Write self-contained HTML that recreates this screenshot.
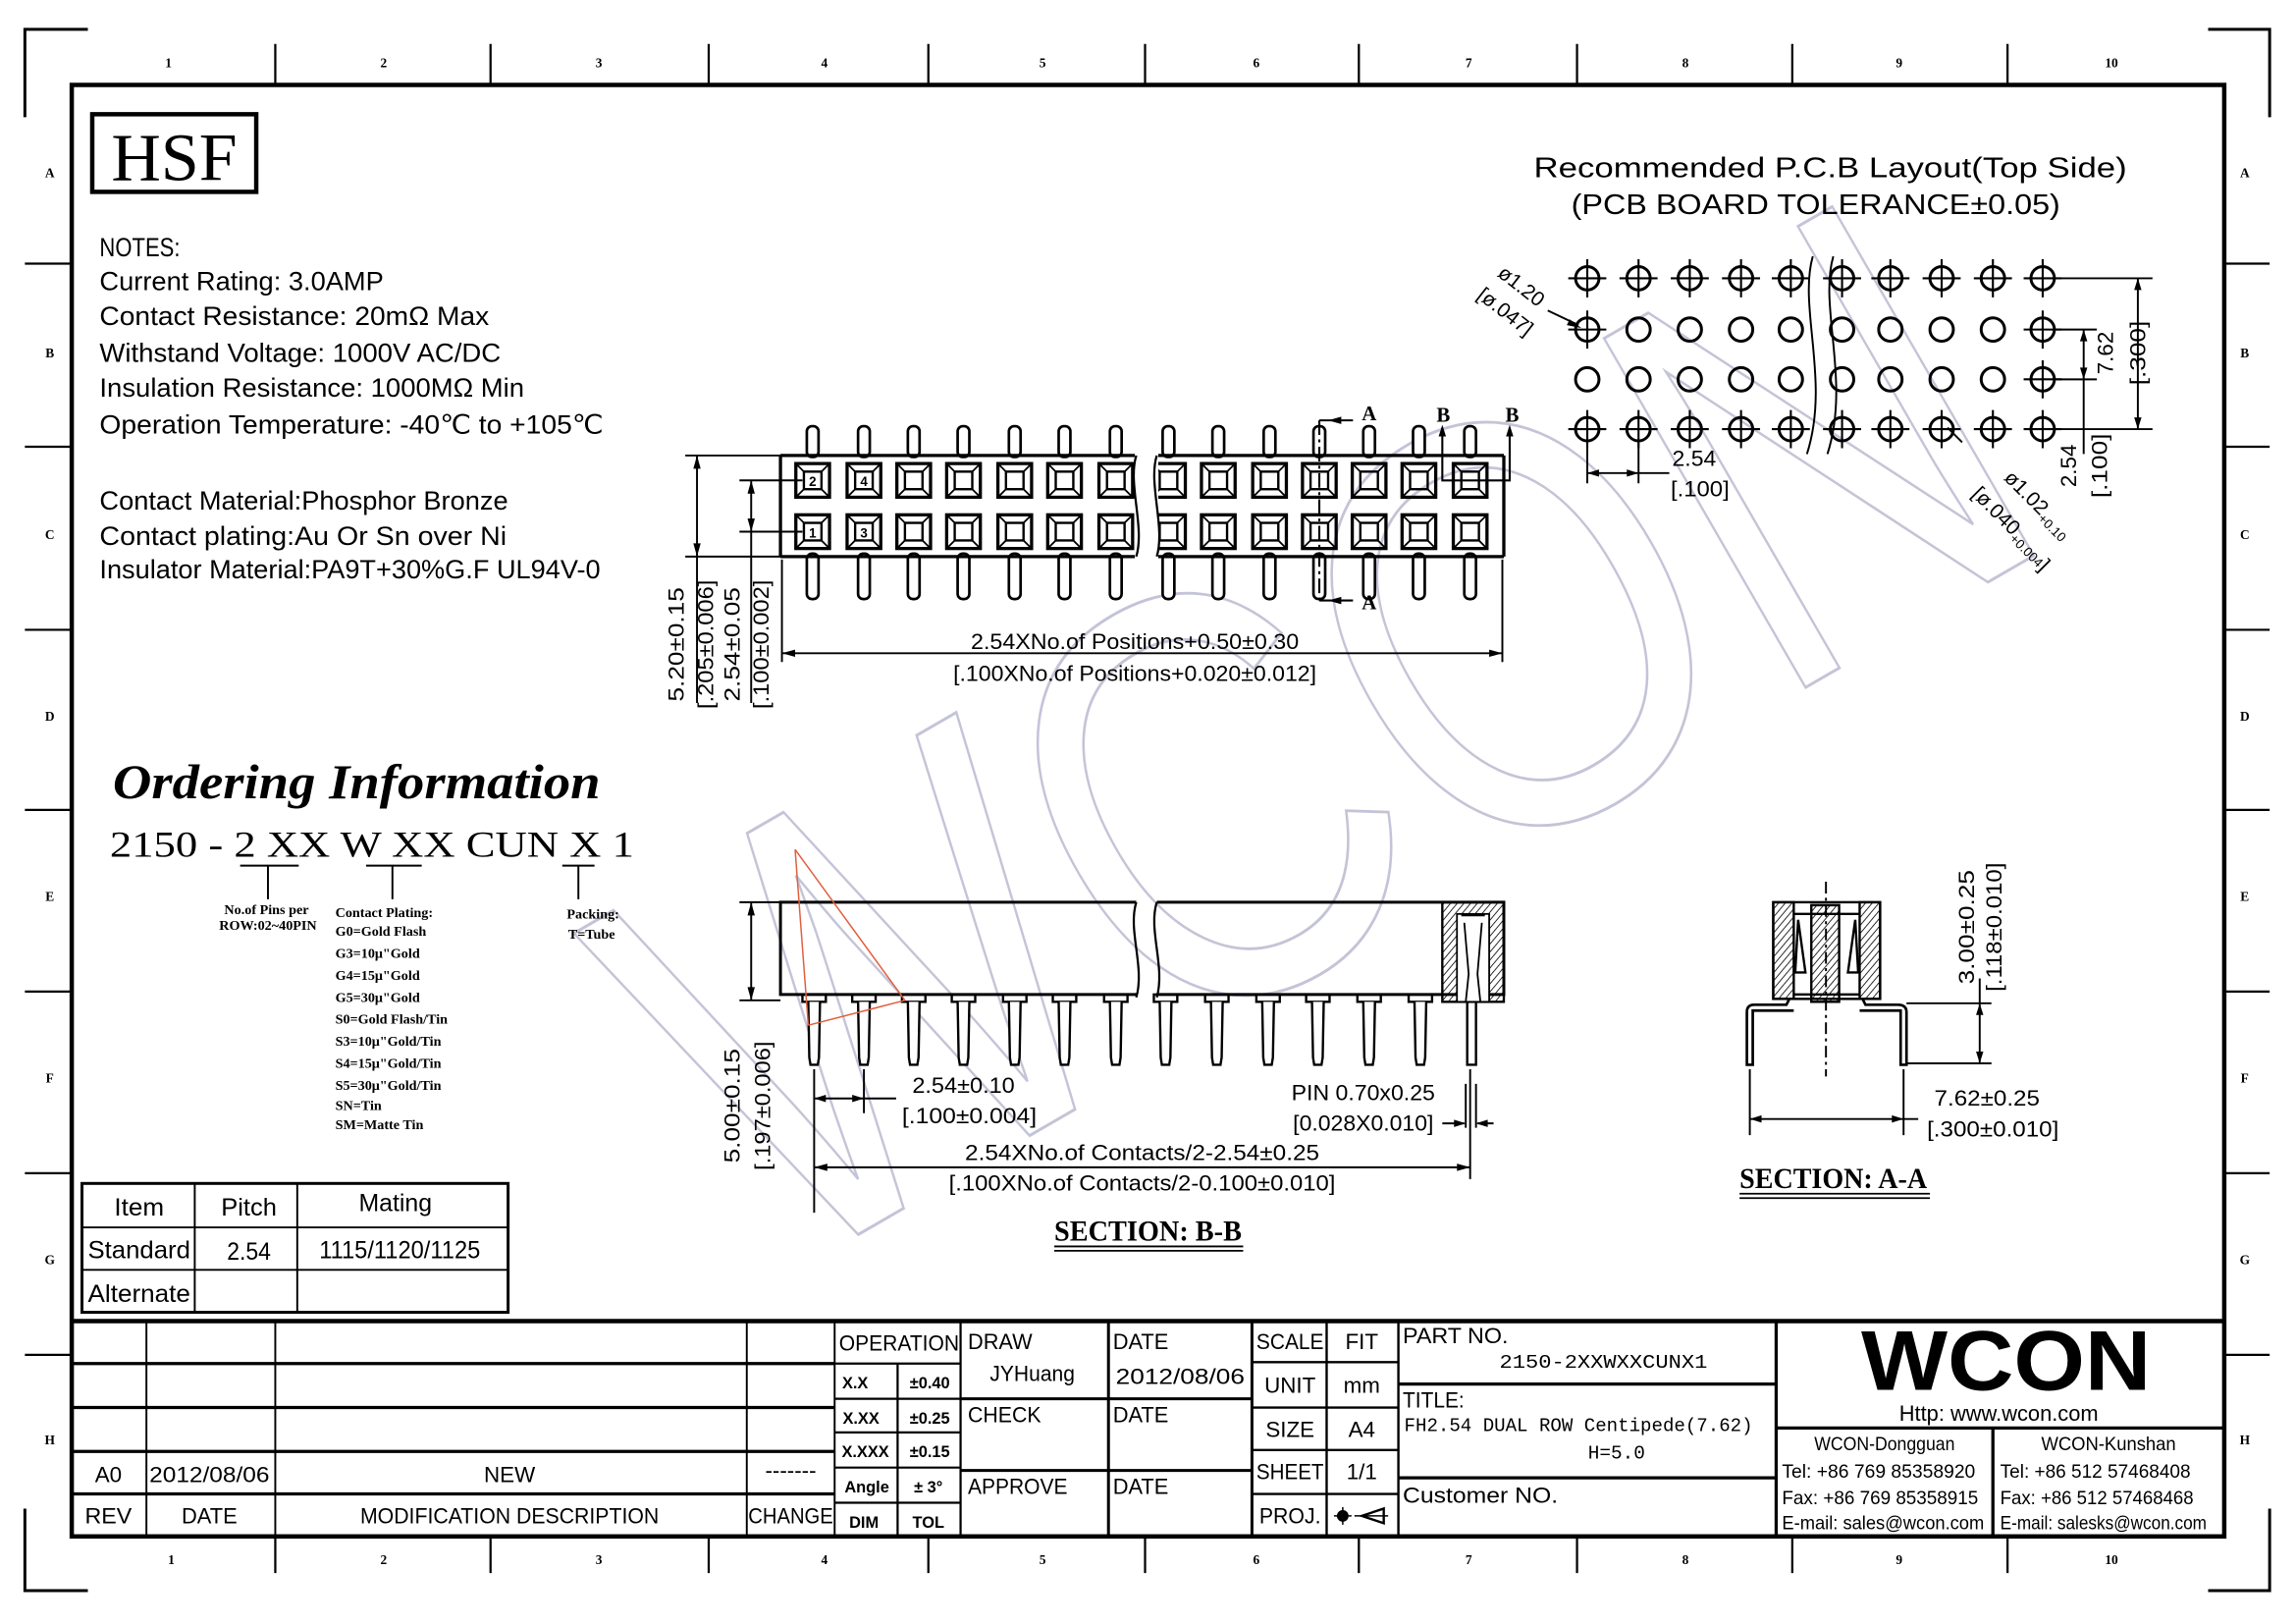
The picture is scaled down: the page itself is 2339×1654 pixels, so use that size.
<!DOCTYPE html>
<html><head><meta charset="utf-8"><style>
html,body{margin:0;padding:0;background:#fff;}
svg{display:block;}
text{font-family:"Liberation Sans",sans-serif;fill:#000;}
.s{font-family:"Liberation Serif",serif;}
.m{font-family:"Liberation Mono",monospace;}
text.wm{fill:none;stroke:#c4c4d8;stroke-width:2;}
</style></head><body>
<svg width="2339" height="1654" viewBox="0 0 1568 1108.8" preserveAspectRatio="none" xmlns="http://www.w3.org/2000/svg">
<defs>
<pattern id="h" width="3.5" height="3.5" patternUnits="userSpaceOnUse" patternTransform="rotate(40)"><line x1="0" y1="0" x2="0" y2="3.5" stroke="#000" stroke-width="1.1"/></pattern>
<g id="sq" fill="none" stroke="#000">
<rect x="-11.5" y="-11.5" width="23" height="23" stroke-width="2.2"/>
<rect x="-6" y="-6" width="12" height="12" stroke-width="1.6"/>
<path d="M-11.5,-11.5L-6,-6M11.5,-11.5L6,-6M-11.5,11.5L-6,6M11.5,11.5L6,6" stroke-width="1.2"/>
</g>
<g id="pu"><rect x="-4" y="291" width="8" height="21" rx="3.5" fill="#fff" stroke="#000" stroke-width="1.8"/></g>
<g id="pd"><rect x="-4" y="378" width="8" height="31" rx="3.5" fill="#fff" stroke="#000" stroke-width="1.8"/></g>
<g id="hc" fill="none" stroke="#000"><circle r="8" stroke-width="2"/><path d="M-13,0H13M0,-13V13" stroke-width="1.4"/></g>
<g id="ho" fill="none" stroke="#000"><circle r="8" stroke-width="2"/></g>
<g id="pb" fill="#fff" stroke="#000" stroke-width="1.6"><rect x="-8" y="679" width="16" height="5"/><path d="M-4,684L-3.3,722L-2.5,727H2.5L3.3,722L4,684"/></g>
</defs>

<!-- watermark -->
<text class="wm" x="900" y="640" font-size="400" text-anchor="middle" textLength="1020" lengthAdjust="spacingAndGlyphs" transform="rotate(-30 900 500)">WCON</text>

<!-- corners -->
<g fill="none" stroke="#000" stroke-width="2">
<path d="M60,20H17V80"/><path d="M1508,20H1550V80"/><path d="M17,1030V1086H60"/><path d="M1550,1030V1086H1508"/>
</g>
<!-- frame -->
<rect x="49" y="58" width="1470" height="991" fill="none" stroke="#000" stroke-width="3"/>
<g stroke="#000" stroke-width="1.5">
<path d="M188,30V58M335,30V58M484,30V58M634,30V58M782,30V58M928,30V58M1077,30V58M1224,30V58M1371,30V58"/>
<path d="M188,1049V1074M335,1049V1074M484,1049V1074M634,1049V1074M782,1049V1074M928,1049V1074M1077,1049V1074M1224,1049V1074M1371,1049V1074"/>
<path d="M17,180H49M17,305H49M17,430H49M17,553H49M17,677H49M17,801H49M17,925H49"/>
<path d="M1519,180H1550M1519,305H1550M1519,430H1550M1519,553H1550M1519,677H1550M1519,801H1550M1519,925H1550"/>
</g>
<g class="s" font-size="9" font-weight="bold" text-anchor="middle">
<text x="115" y="46" class="s">1</text><text x="262" y="46" class="s">2</text><text x="409" y="46" class="s">3</text><text x="563" y="46" class="s">4</text><text x="712" y="46" class="s">5</text><text x="858" y="46" class="s">6</text><text x="1003" y="46" class="s">7</text><text x="1151" y="46" class="s">8</text><text x="1297" y="46" class="s">9</text><text x="1442" y="46" class="s">10</text>
<text x="117" y="1068" class="s">1</text><text x="262" y="1068" class="s">2</text><text x="409" y="1068" class="s">3</text><text x="563" y="1068" class="s">4</text><text x="712" y="1068" class="s">5</text><text x="858" y="1068" class="s">6</text><text x="1003" y="1068" class="s">7</text><text x="1151" y="1068" class="s">8</text><text x="1297" y="1068" class="s">9</text><text x="1442" y="1068" class="s">10</text>
<text x="34" y="121" class="s">A</text><text x="34" y="244" class="s">B</text><text x="34" y="368" class="s">C</text><text x="34" y="492" class="s">D</text><text x="34" y="615" class="s">E</text><text x="34" y="739" class="s">F</text><text x="34" y="863" class="s">G</text><text x="34" y="986" class="s">H</text>
<text x="1533" y="121" class="s">A</text><text x="1533" y="244" class="s">B</text><text x="1533" y="368" class="s">C</text><text x="1533" y="492" class="s">D</text><text x="1533" y="615" class="s">E</text><text x="1533" y="739" class="s">F</text><text x="1533" y="863" class="s">G</text><text x="1533" y="986" class="s">H</text>
</g>

<!-- HSF -->
<rect x="63" y="78" width="112" height="53" fill="none" stroke="#000" stroke-width="3"/>
<text x="119" y="123" class="s" font-size="46" text-anchor="middle" textLength="86" lengthAdjust="spacingAndGlyphs">HSF</text>

<!-- notes -->
<g font-size="18">
<text x="68" y="175" textLength="55" lengthAdjust="spacingAndGlyphs">NOTES:</text>
<text x="68" y="198" textLength="194" lengthAdjust="spacingAndGlyphs">Current Rating: 3.0AMP</text>
<text x="68" y="222" textLength="266" lengthAdjust="spacingAndGlyphs">Contact Resistance: 20mΩ Max</text>
<text x="68" y="247" textLength="274" lengthAdjust="spacingAndGlyphs">Withstand Voltage: 1000V AC/DC</text>
<text x="68" y="271" textLength="290" lengthAdjust="spacingAndGlyphs">Insulation Resistance: 1000MΩ Min</text>
<text x="68" y="296" textLength="344" lengthAdjust="spacingAndGlyphs">Operation Temperature: -40℃ to +105℃</text>
<text x="68" y="348" textLength="279" lengthAdjust="spacingAndGlyphs">Contact Material:Phosphor Bronze</text>
<text x="68" y="372" textLength="278" lengthAdjust="spacingAndGlyphs">Contact plating:Au Or Sn over Ni</text>
<text x="68" y="395" textLength="342" lengthAdjust="spacingAndGlyphs">Insulator Material:PA9T+30%G.F UL94V-0</text>
</g>

<!-- top view connector -->
<g>
<use href="#pu" x="555"/><use href="#pu" x="590"/><use href="#pu" x="624"/><use href="#pu" x="658"/><use href="#pu" x="693"/><use href="#pu" x="727"/><use href="#pu" x="762"/><use href="#pu" x="798"/><use href="#pu" x="832"/><use href="#pu" x="867"/><use href="#pu" x="901"/><use href="#pu" x="935"/><use href="#pu" x="969"/><use href="#pu" x="1004"/>
<use href="#pd" x="555"/><use href="#pd" x="590"/><use href="#pd" x="624"/><use href="#pd" x="658"/><use href="#pd" x="693"/><use href="#pd" x="727"/><use href="#pd" x="762"/><use href="#pd" x="798"/><use href="#pd" x="832"/><use href="#pd" x="867"/><use href="#pd" x="901"/><use href="#pd" x="935"/><use href="#pd" x="969"/><use href="#pd" x="1004"/>
</g>
<path d="M533,311H776M790,311H1027M533,380H776M790,380H1027M533,311V380M1027,311V380" stroke="#000" stroke-width="2.2" fill="none"/>
<g>
<use href="#sq" x="555" y="328"/><use href="#sq" x="590" y="328"/><use href="#sq" x="624" y="328"/><use href="#sq" x="658" y="328"/><use href="#sq" x="693" y="328"/><use href="#sq" x="727" y="328"/><use href="#sq" x="762" y="328"/><use href="#sq" x="798" y="328"/><use href="#sq" x="832" y="328"/><use href="#sq" x="867" y="328"/><use href="#sq" x="901" y="328"/><use href="#sq" x="935" y="328"/><use href="#sq" x="969" y="328"/><use href="#sq" x="1004" y="328"/>
<use href="#sq" x="555" y="363"/><use href="#sq" x="590" y="363"/><use href="#sq" x="624" y="363"/><use href="#sq" x="658" y="363"/><use href="#sq" x="693" y="363"/><use href="#sq" x="727" y="363"/><use href="#sq" x="762" y="363"/><use href="#sq" x="798" y="363"/><use href="#sq" x="832" y="363"/><use href="#sq" x="867" y="363"/><use href="#sq" x="901" y="363"/><use href="#sq" x="935" y="363"/><use href="#sq" x="969" y="363"/><use href="#sq" x="1004" y="363"/>
</g>
<rect x="775" y="305" width="16" height="80" fill="#fff"/>
<path d="M776,311C770,330 782,360 776,380M790,311C784,330 796,360 790,380" stroke="#000" stroke-width="1.5" fill="none"/>
<g font-size="9" font-weight="bold" text-anchor="middle"><text x="555" y="332">2</text><text x="590" y="332">4</text><text x="555" y="367">1</text><text x="590" y="367">3</text></g>
<!-- section markers -->
<g stroke="#000" stroke-width="1.4" fill="none">
<path d="M901,287V412" stroke-dasharray="10,3,2,3"/>
<path d="M901,287H924M901,410H924"/>
<path d="M985,292V328H1031V292"/>
</g>
<g fill="#000"><path d="M907,287l9,-2.5v5z"/><path d="M907,410l9,-2.5v5z"/><path d="M985,290l-2.5,8h5z"/><path d="M1031,290l-2.5,8h5z"/></g>
<g class="s" font-size="14" font-weight="bold"><text x="930" y="287" class="s">A</text><text x="930" y="416" class="s">A</text><text x="981" y="288" class="s">B</text><text x="1028" y="288" class="s">B</text></g>
<!-- top dims -->
<g stroke="#000" stroke-width="1.3" fill="none">
<path d="M468,311H533M468,380H533M505,328H548M505,363H548"/>
<path d="M476,311V480M513,328V480"/>
<path d="M534,382V452M1026,382V452M534,446H1026"/>
</g>
<g fill="#000"><path d="M476,311l-2.5,9h5zM476,380l-2.5,-9h5zM513,328l-2.5,9h5zM513,363l-2.5,-9h5zM534,446l9,-2.5v5zM1026,446l-9,-2.5v5z"/></g>
<g font-size="15">
<text transform="translate(467,440) rotate(-90)" text-anchor="middle" textLength="78" lengthAdjust="spacingAndGlyphs">5.20±0.15</text>
<text transform="translate(487,440) rotate(-90)" text-anchor="middle" textLength="88" lengthAdjust="spacingAndGlyphs">[.205±0.006]</text>
<text transform="translate(505,440) rotate(-90)" text-anchor="middle" textLength="78" lengthAdjust="spacingAndGlyphs">2.54±0.05</text>
<text transform="translate(525,440) rotate(-90)" text-anchor="middle" textLength="88" lengthAdjust="spacingAndGlyphs">[.100±0.002]</text>
</g>
<g font-size="15" text-anchor="middle">
<text x="775" y="443" textLength="224" lengthAdjust="spacingAndGlyphs">2.54XNo.of Positions+0.50±0.30</text>
<text x="775" y="465" textLength="248" lengthAdjust="spacingAndGlyphs">[.100XNo.of Positions+0.020±0.012]</text>
</g>

<!-- PCB layout -->
<g font-size="19" text-anchor="middle">
<text x="1250" y="121" textLength="405" lengthAdjust="spacingAndGlyphs">Recommended P.C.B Layout(Top Side)</text>
<text x="1240" y="146" textLength="334" lengthAdjust="spacingAndGlyphs">(PCB BOARD TOLERANCE±0.05)</text>
</g>
<g>
<use href="#hc" x="1084" y="190"/><use href="#hc" x="1119" y="190"/><use href="#hc" x="1154" y="190"/><use href="#hc" x="1189" y="190"/><use href="#hc" x="1223" y="190"/><use href="#hc" x="1258" y="190"/><use href="#hc" x="1291" y="190"/><use href="#hc" x="1326" y="190"/><use href="#hc" x="1361" y="190"/><use href="#hc" x="1395" y="190"/>
<use href="#hc" x="1084" y="225"/><use href="#ho" x="1119" y="225"/><use href="#ho" x="1154" y="225"/><use href="#ho" x="1189" y="225"/><use href="#ho" x="1223" y="225"/><use href="#ho" x="1258" y="225"/><use href="#ho" x="1291" y="225"/><use href="#ho" x="1326" y="225"/><use href="#ho" x="1361" y="225"/><use href="#hc" x="1395" y="225"/>
<use href="#ho" x="1084" y="259"/><use href="#ho" x="1119" y="259"/><use href="#ho" x="1154" y="259"/><use href="#ho" x="1189" y="259"/><use href="#ho" x="1223" y="259"/><use href="#ho" x="1258" y="259"/><use href="#ho" x="1291" y="259"/><use href="#ho" x="1326" y="259"/><use href="#ho" x="1361" y="259"/><use href="#hc" x="1395" y="259"/>
<use href="#hc" x="1084" y="293"/><use href="#hc" x="1119" y="293"/><use href="#hc" x="1154" y="293"/><use href="#hc" x="1189" y="293"/><use href="#hc" x="1223" y="293"/><use href="#hc" x="1258" y="293"/><use href="#hc" x="1291" y="293"/><use href="#hc" x="1326" y="293"/><use href="#hc" x="1361" y="293"/><use href="#hc" x="1395" y="293"/>
</g>
<path d="M1238,175C1228,210 1250,260 1234,310M1252,175C1242,210 1264,260 1248,310" stroke="#000" stroke-width="1.3" fill="none"/>
<g stroke="#000" stroke-width="1.3" fill="none">
<path d="M1403,190H1470M1403,293H1470M1460,190V293M1403,225H1432M1403,259H1432M1423,225V310"/>
<path d="M1084,300V330M1119,300V330M1084,323H1140"/>
<path d="M1057,212L1078,222M1340,302L1330,292"/>
</g>
<g fill="#000"><path d="M1460,190l-2.5,8h5zM1460,293l-2.5,-8h5zM1423,225l-2.5,8h5zM1423,259l-2.5,-8h5zM1084,323l8,-2.5v5zM1119,323l-8,-2.5v5zM1080,224l-8,-6l-2,4z"/></g>
<g font-size="15">
<text transform="translate(1443,241) rotate(-90)" text-anchor="middle">7.62</text>
<text transform="translate(1465,241) rotate(-90)" text-anchor="middle" textLength="44" lengthAdjust="spacingAndGlyphs">[.300]</text>
<text transform="translate(1418,318) rotate(-90)" text-anchor="middle">2.54</text>
<text transform="translate(1439,318) rotate(-90)" text-anchor="middle" textLength="44" lengthAdjust="spacingAndGlyphs">[.100]</text>
<text x="1142" y="318" textLength="30" lengthAdjust="spacingAndGlyphs">2.54</text>
<text x="1141" y="339" textLength="40" lengthAdjust="spacingAndGlyphs">[.100]</text>
<text transform="translate(1022,188) rotate(38)" font-size="14">ø1.20</text>
<text transform="translate(1008,203) rotate(38)" font-size="14">[ø.047]</text>
<text transform="translate(1368,327) rotate(45)" font-size="14">ø1.02<tspan font-size="9" dy="3">+0.10</tspan></text>
<text transform="translate(1346,338) rotate(45)" font-size="14">[ø.040<tspan font-size="9" dy="3">+0.004</tspan>]</text>
</g>

<!-- Ordering info -->
<text x="77" y="545" class="s" font-size="33" font-weight="bold" font-style="italic" textLength="333" lengthAdjust="spacingAndGlyphs">Ordering Information</text>
<text x="75" y="585" class="s" font-size="25" textLength="358" lengthAdjust="spacingAndGlyphs">2150 - 2 XX  W  XX  CUN X  1</text>
<g stroke="#000" stroke-width="1.3"><path d="M164,591H204M250,591H288M384,591H406M183,591V614M268,591V614M395,591V614"/></g>
<g class="s" font-size="9.5" font-weight="bold">
<text x="182" y="624" text-anchor="middle" class="s">No.of Pins per</text>
<text x="183" y="635" text-anchor="middle" class="s">ROW:02~40PIN</text>
<text x="229" y="626" class="s">Contact Plating:</text>
<text x="229" y="639" class="s">G0=Gold Flash</text>
<text x="229" y="654" class="s">G3=10μ"Gold</text>
<text x="229" y="669" class="s">G4=15μ"Gold</text>
<text x="229" y="684" class="s">G5=30μ"Gold</text>
<text x="229" y="699" class="s">S0=Gold Flash/Tin</text>
<text x="229" y="714" class="s">S3=10μ"Gold/Tin</text>
<text x="229" y="729" class="s">S4=15μ"Gold/Tin</text>
<text x="229" y="744" class="s">S5=30μ"Gold/Tin</text>
<text x="229" y="758" class="s">SN=Tin</text>
<text x="229" y="771" class="s">SM=Matte Tin</text>
<text x="405" y="627" text-anchor="middle" class="s">Packing:</text>
<text x="404" y="641" text-anchor="middle" class="s">T=Tube</text>
</g>

<!-- left table -->
<g stroke="#000" fill="none"><rect x="56" y="808" width="291" height="88" stroke-width="2"/><path d="M133,808V896M203,808V896M56,838H347M56,867H347" stroke-width="1.3"/></g>
<g font-size="17" text-anchor="middle">
<text x="95" y="830" textLength="34" lengthAdjust="spacingAndGlyphs">Item</text>
<text x="170" y="830" textLength="38" lengthAdjust="spacingAndGlyphs">Pitch</text>
<text x="270" y="827" textLength="50" lengthAdjust="spacingAndGlyphs">Mating</text>
<text x="95" y="859" textLength="70" lengthAdjust="spacingAndGlyphs">Standard</text>
<text x="170" y="860" textLength="30" lengthAdjust="spacingAndGlyphs">2.54</text>
<text x="273" y="859" textLength="110" lengthAdjust="spacingAndGlyphs">1115/1120/1125</text>
<text x="95" y="889" textLength="70" lengthAdjust="spacingAndGlyphs">Alternate</text>
</g>

<!-- Section B-B -->
<g>
<use href="#pb" x="556"/><use href="#pb" x="590"/><use href="#pb" x="624"/><use href="#pb" x="658"/><use href="#pb" x="693"/><use href="#pb" x="727"/><use href="#pb" x="762"/><use href="#pb" x="796"/><use href="#pb" x="831"/><use href="#pb" x="866"/><use href="#pb" x="900"/><use href="#pb" x="935"/><use href="#pb" x="970"/>
</g>
<g fill="none" stroke="#000" stroke-width="2">
<path d="M776,616H533V679H776"/><path d="M790,616H1027V679H790"/>
</g>
<path d="M776,616C770,635 782,660 776,681M790,616C784,635 796,660 790,681" stroke="#000" stroke-width="1.5" fill="none"/>
<rect x="985" y="616" width="42" height="68" fill="url(#h)" stroke="#000" stroke-width="1.6"/>
<rect x="995" y="624" width="22" height="60" fill="#fff" stroke="#000" stroke-width="1.2"/>
<path d="M1000,630L1003,665L1001,684M1012,630L1009,665L1011,684M998,625H1014" stroke="#000" stroke-width="1.2" fill="none"/>
<path d="M1002,684V727H1008V684" fill="none" stroke="#000" stroke-width="1.6"/>
<path d="M543,580L618,683M552,700L618,683M543,580L552,700" stroke="#e06040" stroke-width="1" fill="none"/>
<g stroke="#000" stroke-width="1.3" fill="none">
<path d="M505,616H533M505,683H533M513,616V683"/>
<path d="M556,730V828M590,730V760M1004,730V805M1001,740V770M1008,740V770"/>
<path d="M556,750H612M556,797H1004M985,767H1000M1009,767H1020"/>
</g>
<g fill="#000"><path d="M513,616l-2.5,9h5zM513,683l-2.5,-9h5zM556,750l8,-2.5v5zM590,750l-8,-2.5v5zM556,797l9,-2.5v5zM1004,797l-9,-2.5v5zM1001,767l-8,-2.5v5zM1008,767l8,-2.5v5z"/></g>
<g font-size="15">
<text transform="translate(505,755) rotate(-90)" text-anchor="middle" textLength="78" lengthAdjust="spacingAndGlyphs">5.00±0.15</text>
<text transform="translate(526,755) rotate(-90)" text-anchor="middle" textLength="88" lengthAdjust="spacingAndGlyphs">[.197±0.006]</text>
<text x="658" y="746" text-anchor="middle" textLength="70" lengthAdjust="spacingAndGlyphs">2.54±0.10</text>
<text x="662" y="767" text-anchor="middle" textLength="92" lengthAdjust="spacingAndGlyphs">[.100±0.004]</text>
<text x="931" y="751" text-anchor="middle" textLength="98" lengthAdjust="spacingAndGlyphs">PIN 0.70x0.25</text>
<text x="931" y="772" text-anchor="middle" textLength="96" lengthAdjust="spacingAndGlyphs">[0.028X0.010]</text>
<text x="780" y="792" text-anchor="middle" textLength="242" lengthAdjust="spacingAndGlyphs">2.54XNo.of Contacts/2-2.54±0.25</text>
<text x="780" y="813" text-anchor="middle" textLength="264" lengthAdjust="spacingAndGlyphs">[.100XNo.of Contacts/2-0.100±0.010]</text>
</g>
<text x="784" y="847" class="s" font-size="20" font-weight="bold" text-anchor="middle" textLength="128" lengthAdjust="spacingAndGlyphs">SECTION: B-B</text>
<path d="M720,851H849M720,854H849" stroke="#000" stroke-width="1.2"/>

<!-- Section A-A -->
<g stroke="#000" stroke-width="1.6">
<rect x="1211" y="616" width="73" height="66" fill="#fff"/>
<path d="M1211,616H1225V682H1211Z" fill="url(#h)"/>
<path d="M1270,616H1284V682H1270Z" fill="url(#h)"/>
<path d="M1237,618H1256V684H1237Z" fill="url(#h)"/>
<path d="M1225,624H1270" fill="none"/>
<path d="M1228,628L1233,664H1226ZM1267,628L1262,664H1269Z" fill="#fff"/>
<path d="M1225,679H1270" fill="none"/>
</g>
<path d="M1247,602V735" stroke="#000" stroke-width="1.3" stroke-dasharray="8,3,2,3"/>
<g fill="none" stroke="#000" stroke-width="1.8">
<path d="M1222,682L1220,686H1198Q1193,686 1193,691V727H1197V690H1225"/>
<path d="M1272,682L1274,686H1296Q1302,686 1302,691V727H1298V690H1270"/>
</g>
<g stroke="#000" stroke-width="1.3" fill="none">
<path d="M1302,685H1360M1302,726H1360M1352,668V726"/>
<path d="M1195,730V775M1300,730V775M1195,764H1310"/>
</g>
<g fill="#000"><path d="M1352,685l-2.5,8h5zM1352,726l-2.5,-8h5zM1195,764l8,-2.5v5zM1300,764l-8,-2.5v5z"/></g>
<g font-size="15">
<text transform="translate(1348,633) rotate(-90)" text-anchor="middle" textLength="78" lengthAdjust="spacingAndGlyphs">3.00±0.25</text>
<text transform="translate(1367,633) rotate(-90)" text-anchor="middle" textLength="88" lengthAdjust="spacingAndGlyphs">[.118±0.010]</text>
<text x="1357" y="755" text-anchor="middle" textLength="72" lengthAdjust="spacingAndGlyphs">7.62±0.25</text>
<text x="1361" y="776" text-anchor="middle" textLength="90" lengthAdjust="spacingAndGlyphs">[.300±0.010]</text>
</g>
<text x="1252" y="811" class="s" font-size="20" font-weight="bold" text-anchor="middle" textLength="128" lengthAdjust="spacingAndGlyphs">SECTION: A-A</text>
<path d="M1188,815H1318M1188,818H1318" stroke="#000" stroke-width="1.2"/>

<!-- title block -->
<g stroke="#000" fill="none">
<path d="M49,902H1519" stroke-width="3"/>
<path d="M49,931H570M49,961H570M49,991H570M49,1020H570" stroke-width="2.2"/>
<path d="M100,902V1049M188,902V1049M510,902V1049M570,902V1049" stroke-width="1.3"/>
<path d="M656,902V1049M613,931V1049M570,931H656M570,955H656M570,978H656M570,1002H656M570,1026H656" stroke-width="1.5"/>
<path d="M757,902V1049M855,902V1049M656,955H855M656,1004H855" stroke-width="2"/>
<path d="M906,902V1049M955,902V1049M855,930H955M855,961H955M855,990H955M855,1020H955" stroke-width="1.6"/>
<path d="M955,945H1213M955,1009H1213M1213,902V1049M1213,975H1519M1361,975V1049" stroke-width="2.2"/>
</g>
<g font-size="15" text-anchor="middle">
<text x="74" y="1012">A0</text><text x="143" y="1012" textLength="82" lengthAdjust="spacingAndGlyphs">2012/08/06</text><text x="348" y="1012">NEW</text><text x="540" y="1009">-------</text>
<text x="74" y="1040" textLength="32" lengthAdjust="spacingAndGlyphs">REV</text><text x="143" y="1040" textLength="38" lengthAdjust="spacingAndGlyphs">DATE</text><text x="348" y="1040" textLength="204" lengthAdjust="spacingAndGlyphs">MODIFICATION DESCRIPTION</text><text x="540" y="1040" textLength="58" lengthAdjust="spacingAndGlyphs">CHANGE</text>
<text x="614" y="922" textLength="82" lengthAdjust="spacingAndGlyphs">OPERATION</text>
<text x="705" y="943" textLength="58" lengthAdjust="spacingAndGlyphs">JYHuang</text>
<text x="806" y="945" textLength="88" lengthAdjust="spacingAndGlyphs">2012/08/06</text>
</g>
<g font-size="11" font-weight="bold" text-anchor="middle">
<text x="584" y="948">X.X</text><text x="635" y="948">±0.40</text>
<text x="588" y="972">X.XX</text><text x="635" y="972">±0.25</text>
<text x="591" y="995">X.XXX</text><text x="635" y="995">±0.15</text>
<text x="592" y="1019">Angle</text><text x="634" y="1019">± 3°</text>
<text x="590" y="1043">DIM</text><text x="634" y="1043">TOL</text>
</g>
<g font-size="15">
<text x="661" y="921" textLength="44" lengthAdjust="spacingAndGlyphs">DRAW</text>
<text x="661" y="971" textLength="50" lengthAdjust="spacingAndGlyphs">CHECK</text>
<text x="661" y="1020" textLength="68" lengthAdjust="spacingAndGlyphs">APPROVE</text>
<text x="760" y="921" textLength="38" lengthAdjust="spacingAndGlyphs">DATE</text>
<text x="760" y="971" textLength="38" lengthAdjust="spacingAndGlyphs">DATE</text>
<text x="760" y="1020" textLength="38" lengthAdjust="spacingAndGlyphs">DATE</text>
<text x="958" y="917" textLength="72" lengthAdjust="spacingAndGlyphs">PART NO.</text>
<text x="958" y="961" textLength="42" lengthAdjust="spacingAndGlyphs">TITLE:</text>
<text x="958" y="1026" textLength="106" lengthAdjust="spacingAndGlyphs">Customer NO.</text>
</g>
<g font-size="15" text-anchor="middle">
<text x="881" y="921" textLength="46" lengthAdjust="spacingAndGlyphs">SCALE</text><text x="930" y="921">FIT</text>
<text x="881" y="951">UNIT</text><text x="930" y="951">mm</text>
<text x="881" y="981">SIZE</text><text x="930" y="981">A4</text>
<text x="881" y="1010" textLength="46" lengthAdjust="spacingAndGlyphs">SHEET</text><text x="930" y="1010">1/1</text>
<text x="881" y="1040" textLength="42" lengthAdjust="spacingAndGlyphs">PROJ.</text>
</g>
<g><path d="M917,1029V1041M911,1035H923" stroke="#000" stroke-width="1"/><circle cx="917" cy="1035" r="4" fill="#000"/><path d="M930,1035L945,1030V1040Z" fill="none" stroke="#000" stroke-width="1.6"/><path d="M925,1035H948" stroke="#000" stroke-width="1"/></g>
<g class="m" font-size="13" text-anchor="middle">
<text x="1095" y="934" class="m" textLength="142" lengthAdjust="spacingAndGlyphs">2150-2XXWXXCUNX1</text>
<text x="1078" y="977" class="m" textLength="238" lengthAdjust="spacingAndGlyphs">FH2.54 DUAL ROW Centipede(7.62)</text>
<text x="1104" y="996" class="m">H=5.0</text>
</g>
<text x="1370" y="949" font-size="58" font-weight="bold" text-anchor="middle" textLength="198" lengthAdjust="spacingAndGlyphs">WCON</text>
<text x="1365" y="970" font-size="15" text-anchor="middle" textLength="136" lengthAdjust="spacingAndGlyphs">Http: www.wcon.com</text>
<g font-size="13">
<text x="1287" y="990" text-anchor="middle" textLength="96" lengthAdjust="spacingAndGlyphs">WCON-Dongguan</text>
<text x="1217" y="1009" textLength="132" lengthAdjust="spacingAndGlyphs">Tel: +86 769 85358920</text>
<text x="1217" y="1027" textLength="134" lengthAdjust="spacingAndGlyphs">Fax: +86 769 85358915</text>
<text x="1217" y="1044" textLength="138" lengthAdjust="spacingAndGlyphs">E-mail: sales@wcon.com</text>
<text x="1440" y="990" text-anchor="middle" textLength="92" lengthAdjust="spacingAndGlyphs">WCON-Kunshan</text>
<text x="1366" y="1009" textLength="130" lengthAdjust="spacingAndGlyphs">Tel: +86 512 57468408</text>
<text x="1366" y="1027" textLength="132" lengthAdjust="spacingAndGlyphs">Fax: +86 512 57468468</text>
<text x="1366" y="1044" textLength="141" lengthAdjust="spacingAndGlyphs">E-mail: salesks@wcon.com</text>
</g>
</svg>
</body></html>
